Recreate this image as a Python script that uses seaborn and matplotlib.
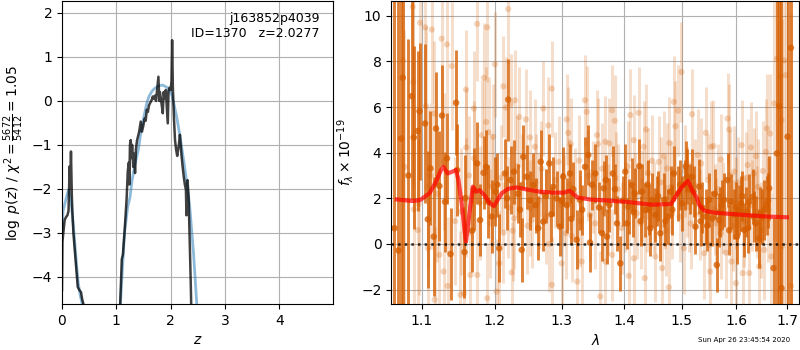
import numpy as np
import matplotlib
matplotlib.use("Agg")
import matplotlib.pyplot as plt
import matplotlib.ticker as mticker
import seaborn as sns

# p(z) panel
PZ_Z = [0.000, 0.008, 0.03, 0.05, 0.08, 0.10, 0.12, 0.14, 0.15, 0.165, 0.18, 0.19, 0.21,
        0.25, 0.29, 0.32, 0.35, 0.37, 0.40, 0.44,
        1.04, 1.07, 1.10, 1.12, 1.15, 1.17, 1.19, 1.21, 1.23, 1.24, 1.25, 1.265, 1.28, 1.29,
        1.31, 1.33, 1.344, 1.36, 1.38, 1.40, 1.42, 1.449, 1.47, 1.49, 1.52, 1.54, 1.56, 1.58,
        1.60, 1.62, 1.65, 1.67, 1.69, 1.71, 1.73, 1.774, 1.79, 1.80, 1.82, 1.854, 1.87, 1.89,
        1.91, 1.946, 1.96, 1.98, 2.00, 2.015, 2.026, 2.04, 2.06, 2.08, 2.10, 2.12, 2.15,
        2.17, 2.20, 2.22, 2.24, 2.26, 2.28, 2.29, 2.31, 2.33, 2.35, 2.37, 2.40]
PZ_LOGP = [-4.3, -3.2, -2.93, -2.7, -2.63, -2.6, -2.5, -1.49, -2.0, -1.15, -2.1, -2.5, -3.0,
           -3.62, -4.23, -4.3, -4.35, -4.5, -4.65, -6.0,
           -6.0, -4.65, -3.6, -3.5, -3.0, -2.6, -2.2, -1.6, -1.4, -1.9, -1.0, -0.89, -1.3, -1.0,
           -1.5, -1.2, -1.64, -1.1, -0.9, -0.8, -0.7, -0.47, -0.7, -0.6, -0.4, -0.45, -0.2, -0.25,
           -0.1, -0.05, 0.02, 0.1, 0.05, 0.12, 0.0, 0.55, 0.0, 0.2, 0.05, -0.28, 0.2, 0.05,
           0.25, -0.51, 0.23, 0.3, 0.25, 0.45, 1.38, 0.3, -0.4, -0.9, -1.11, -1.25, -1.0,
           -0.77, -1.25, -1.5, -1.72, -1.9, -2.02, -2.6, -1.8, -2.2, -3.2, -4.2, -6.0]

PRIOR_Z = [0.00, 0.02, 0.05, 0.08, 0.12, 0.15, 0.18, 0.21, 0.24, 0.27, 0.30, 0.34, 0.38, 0.42,
           1.04, 1.07, 1.10, 1.15, 1.21, 1.25, 1.29, 1.35, 1.405, 1.467, 1.50, 1.56, 1.60, 1.65,
           1.70, 1.774, 1.85, 1.90, 1.958, 2.02, 2.05, 2.11, 2.15, 2.20, 2.25, 2.28, 2.345,
           2.42, 2.48, 2.52]
PRIOR_LOGP = [-3.0, -2.5, -2.35, -2.2, -2.02, -2.15, -2.45, -2.85, -3.3, -3.75, -4.15, -4.45,
              -4.65, -5.5,
              -5.5, -4.7, -4.07, -3.0, -2.4, -2.2, -1.8, -1.4, -1.11, -0.58, -0.4, -0.05, 0.1,
              0.21, 0.28, 0.34, 0.36, 0.33, 0.29, 0.14, -0.02, -0.36, -0.65, -1.04, -1.45,
              -1.72, -2.33, -3.46, -4.62, -5.5]

# spectrum panel: binned (dark) points
DARK_WAVE = [1.0651, 1.0702, 1.0736, 1.0757, 1.0830, 1.0873, 1.0899, 1.0951, 1.0974, 1.1047,
             1.1083, 1.1118, 1.1162, 1.1192, 1.1237, 1.1272, 1.1312, 1.1339, 1.1387, 1.1463,
             1.1477, 1.1578, 1.1587, 1.1684, 1.1708, 1.1754, 1.1796, 1.1844, 1.1881, 1.1905,
             1.1960, 1.2010, 1.2067, 1.2149, 1.2197, 1.2232, 1.2281, 1.2340, 1.2394, 1.2418,
             1.2467, 1.2520, 1.2566, 1.2641, 1.2678, 1.2717, 1.2760, 1.2808, 1.2869, 1.2920,
             1.2973, 1.3024, 1.3080, 1.3128, 1.3180, 1.3233, 1.3286, 1.3365, 1.3418, 1.3445,
             1.3530, 1.3590, 1.3639, 1.3667, 1.3721, 1.3759, 1.3814, 1.3885, 1.3940, 1.3980,
             1.4023, 1.4080, 1.4136, 1.4181, 1.4259, 1.4305, 1.4361, 1.4400, 1.4447, 1.4477,
             1.4534, 1.4580, 1.4621, 1.4681, 1.4756, 1.4800, 1.4857, 1.4933, 1.5004, 1.5050,
             1.5094, 1.5140, 1.5184, 1.5245, 1.5312, 1.5370, 1.5434, 1.5495, 1.5556, 1.5637,
             1.5681, 1.5730, 1.5775, 1.5838, 1.5902, 1.5960, 1.6017, 1.6060, 1.6094, 1.6158,
             1.6200, 1.6252, 1.6317, 1.6383, 1.6447, 1.6500, 1.6545, 1.6600, 1.6644, 1.6730,
             1.6797, 1.6844, 1.6890, 1.7012, 1.7081,
             1.2040, 1.2180, 1.2370, 1.2600, 1.2840, 1.3000, 1.3150, 1.3320, 1.3480, 1.3700,
             1.3850, 1.4050, 1.4160, 1.4280, 1.4420, 1.4560, 1.4710, 1.4830, 1.4970, 1.5070,
             1.5210, 1.5340, 1.5460, 1.5600, 1.5700, 1.5870, 1.6000, 1.6120, 1.6230, 1.6340,
             1.6470, 1.6620]
DARK_FLUX = [0.69, -0.29, 4.62, 7.29, 3.0, 6.48, 4.67, 4.95, 5.82, 5.28,
             1.08, 3.31, 0.32, 5.06, 2.54, 5.63, 1.85, 3.75, -0.44, 6.19,
             3.24, -0.36, 2.00, 0.58, 2.39, 3.53, 1.05, 3.12, 3.38, 1.85,
             1.20, 2.30, -0.19, 3.09, 6.33, 2.80, 3.17, 2.20, -0.26, 3.82,
             2.95, 1.90, 2.58, 0.69, 3.60, 0.98, 2.10, 3.53, 2.51, 2.00,
             0.76, 2.95, 1.70, 3.09, 2.40, 0.18, 1.93, 3.38, 3.90, 0.06,
             3.09, 1.60, 0.47, 2.44, 0.32, 1.71, 3.09, 0.90, -0.85, 1.90,
             3.17, 1.63, 2.58, 2.22, 3.41, 2.29, 1.49, 2.60, 0.69, 1.93,
             1.27, 2.10, 0.47, 1.93, 1.20, 2.30, 3.09, 2.22, 1.78, 2.60,
             2.95, 2.40, 2.95, 0.76, 2.51, 1.60, 1.20, 1.93, 1.12, -0.92,
             1.05, 1.70, 1.93, 2.80, 1.85, 1.30, 0.32, 1.50, 1.78, 0.61,
             1.40, 1.85, 2.07, 0.90, 0.25, 1.20, 1.49, 1.70, 2.44, -1.06,
             3.97, 6.04, -1.94, 4.70, 8.60,
             2.6, 2.0, 1.5, 1.7, 1.3, 1.9, 1.1, 1.5, 2.6, 2.8,
             2.4, 0.9, 1.4, 1.0, 1.5, 1.9, 1.0, 1.5, 2.6, 3.4,
             2.3, 1.0, 0.8, 2.2, 1.4, 0.6, 1.6, 2.1, 0.7, 1.2,
             1.3, 1.9]
DARK_ERR = [15, 15, 15, 15, 6.0, 4.5, 4.0, 3.5, 3.0, 3.5,
            3.0, 2.5, 2.6, 2.5, 2.4, 2.2, 2.2, 2.0, 2.0, 2.3,
            2.0, 2.0, 1.9, 1.8, 1.8, 1.8, 1.6, 1.6, 1.6, 1.6,
            1.6, 1.5, 1.5, 1.5, 1.8, 1.5, 1.4, 1.3, 1.4, 1.4,
            1.4, 1.3, 1.4, 1.4, 1.4, 1.3, 1.2, 1.3, 1.3, 1.2,
            1.3, 1.3, 1.2, 1.3, 1.2, 1.3, 1.3, 1.3, 1.3, 1.3,
            1.3, 1.1, 1.2, 1.2, 1.2, 1.2, 1.2, 1.2, 1.2, 1.1,
            1.2, 1.2, 1.2, 1.1, 1.2, 1.2, 1.2, 1.1, 1.2, 1.2,
            1.2, 1.1, 1.2, 1.2, 1.2, 1.1, 1.2, 1.2, 1.2, 1.1,
            1.2, 1.1, 1.2, 1.2, 1.2, 1.1, 1.2, 1.2, 1.2, 1.2,
            1.2, 1.1, 1.2, 1.2, 1.2, 1.1, 1.2, 1.1, 1.2, 1.2,
            1.1, 1.2, 1.2, 1.2, 1.3, 1.2, 1.3, 1.3, 1.4, 2.2,
            15, 15, 15, 15, 15,
            1.4, 1.4, 1.2, 1.2, 1.2, 1.2, 1.1, 1.1, 1.1, 1.1,
            1.1, 1.1, 1.1, 1.1, 1.1, 1.1, 1.1, 1.1, 1.1, 1.1,
            1.1, 1.1, 1.1, 1.1, 1.1, 1.1, 1.1, 1.1, 1.1, 1.1,
            1.2, 1.2]

# spectrum panel: unbinned (light) points
LIGHT_WAVE = [1.0757, 1.0779, 1.0886, 1.0893, 1.0899, 1.0951, 1.0961, 1.0982, 1.1047, 1.1060,
              1.1083, 1.1085, 1.1136, 1.1171, 1.1173, 1.1237, 1.1267, 1.1293, 1.1339, 1.1346,
              1.1404, 1.1522, 1.1531, 1.1569, 1.1599, 1.1602, 1.1604, 1.1661, 1.1708, 1.1710,
              1.1754, 1.1756, 1.1820, 1.1849, 1.1881, 1.1895, 1.1897, 1.1914, 1.1957, 1.1980,
              1.2005, 1.2029, 1.2067, 1.2126, 1.2128, 1.2164, 1.2197, 1.2232, 1.2247, 1.2261,
              1.2281, 1.2295, 1.2358, 1.2400, 1.2456, 1.2517, 1.2519, 1.2542, 1.2591, 1.2650,
              1.2717, 1.2793, 1.2808, 1.2845, 1.2847, 1.2900, 1.2998, 1.3066, 1.3076, 1.3102,
              1.3139, 1.3154, 1.3200, 1.3243, 1.3275, 1.3313, 1.3365, 1.3392, 1.3445, 1.3500,
              1.3557, 1.3573, 1.3611, 1.3693, 1.3695, 1.3759, 1.3803, 1.3805, 1.3847, 1.3900,
              1.4023, 1.4080, 1.4107, 1.4164, 1.4166, 1.4220, 1.4248, 1.4300, 1.4333, 1.4350,
              1.4373, 1.4390, 1.4477, 1.4534, 1.4594, 1.4651, 1.4681, 1.4700, 1.4739, 1.4768,
              1.4779, 1.4827, 1.4857, 1.4886, 1.4933, 1.4993, 1.5036, 1.5100, 1.5126, 1.5184,
              1.5288, 1.5349, 1.5404, 1.5434, 1.5495, 1.5514, 1.5526, 1.5575, 1.5600, 1.5713,
              1.5715, 1.5808, 1.5838, 1.5870, 1.5913, 1.5966, 1.5998, 1.6000, 1.6105, 1.6125,
              1.6222, 1.6254, 1.6287, 1.6350, 1.6383, 1.6400, 1.6447, 1.6545, 1.6578, 1.6598,
              1.6664, 1.6690, 1.6744, 1.6797, 1.6864, 1.6890, 1.6892, 1.6944, 1.6978, 1.7081,
              1.1120, 1.1210, 1.1300, 1.1450, 1.1640, 1.1790, 1.1940, 1.2090, 1.2200, 1.2330,
              1.2480, 1.2600, 1.2690, 1.2760, 1.2950, 1.3030, 1.3120, 1.3290, 1.3420, 1.3530,
              1.3640, 1.3730, 1.3860, 1.3960, 1.4060, 1.4190, 1.4280, 1.4410, 1.4510, 1.4630,
              1.4720, 1.4810, 1.4960, 1.5060, 1.5160, 1.5230, 1.5320, 1.5470, 1.5620, 1.5660,
              1.5760, 1.5890, 1.5940, 1.6040, 1.6160, 1.6190, 1.6310, 1.6420, 1.6490, 1.6520,
              1.6630]
LIGHT_FLUX = [8.05, 3.38, 10.4, 7.10, 1.52, 0.61, 1.75, 9.70, 9.50, 6.04,
              2.48, -0.19, 9.40, 5.72, -2.45, -0.48, 9.00, -1.21, 8.75, -1.84,
              7.80, -2.23, 1.42, -2.16, 6.77, 4.23, 2.04, -1.36, 5.94, 3.75,
              9.65, -1.36, 4.77, 7.29, 5.35, 9.50, -2.38, 4.90, 2.51, 4.70,
              7.88, -2.09, -0.85, 6.91, 0.50, 5.98, 10.30, 6.13, -1.25, 0.58,
              1.12, 6.30, 5.57, 2.60, 5.46, 4.67, 1.56, 1.05, 4.26, 1.90,
              5.94, 5.20, 0.00, 6.81, -1.79, 2.80, -0.85, 0.47, 5.46, 4.87,
              4.38, 0.35, 2.20, -1.65, 3.65, -0.77, 6.30, 5.79, 1.27, 2.50,
              4.77, 4.38, -2.30, 4.48, -0.77, 4.41, 5.86, -0.48, 5.40, 2.40,
              1.63, -1.40, 5.65, 4.55, -0.63, 1.34, 5.75, 2.10, 4.26, -1.50,
              5.02, 1.63, 3.65, -0.55, 3.60, -1.06, 3.85, 1.80, 3.31, -1.90,
              4.43, 1.34, 6.23, 5.16, 5.84, 7.54, -0.19, 2.30, 1.63, 5.69,
              3.90, 3.53, -0.41, 4.87, -0.04, -1.21, 4.26, 4.29, 1.50, 3.70,
              0.47, -0.38, 5.50, 5.02, -0.77, 3.17, -1.72, 1.80, 4.33, -1.28,
              3.46, -1.28, 4.23, 3.09, 3.85, 1.40, -0.99, -0.26, 4.04, 5.06,
              4.84, -0.55, 6.16, 8.13, 7.35, 5.43, -0.12, 8.05, 7.40, -1.84,
              3.0, 2.2, 3.6, 1.0, 3.0, 1.8, 0.9, 2.9, 1.6, 3.4,
              0.8, 2.7, 3.3, 1.2, 3.6, 1.9, 2.6, 1.0, 3.0, 0.9,
              3.3, 1.5, 2.9, 0.7, 3.4, 2.0, 0.9, 3.1, 1.6, 2.7,
              0.6, 2.5, 1.2, 3.2, 0.9, 2.6, 1.3, 2.8, 0.9, 2.4,
              1.6, 3.0, 0.8, 2.7, 1.0, 2.9, 1.7, 2.5, 0.6, 3.2,
              1.5]
LIGHT_ERR = [6.0, 6.0, 4.5, 4.5, 4.5, 4.0, 4.0, 4.0, 3.5, 3.5,
             3.5, 3.5, 3.2, 3.2, 3.2, 3.0, 3.0, 3.0, 3.0, 3.0,
             2.8, 2.8, 2.8, 2.8, 2.6, 2.6, 2.6, 2.6, 2.5, 2.5,
             2.5, 2.5, 2.4, 2.4, 2.4, 2.4, 2.4, 2.4, 2.3, 2.3,
             2.3, 2.3, 2.3, 2.2, 2.2, 2.2, 2.4, 2.2, 2.2, 2.2,
             2.2, 2.2, 2.2, 2.2, 2.2, 2.1, 2.1, 2.1, 2.1, 2.1,
             2.1, 2.1, 2.1, 2.1, 2.1, 2.1, 2.0, 2.0, 2.0, 2.0,
             2.0, 2.0, 2.0, 2.0, 2.0, 2.0, 2.0, 2.0, 2.0, 2.0,
             2.0, 2.0, 2.0, 2.0, 2.0, 2.0, 2.0, 2.0, 2.0, 2.0,
             2.0, 2.0, 2.0, 2.0, 2.0, 2.0, 2.0, 2.0, 2.0, 2.0,
             2.0, 2.0, 2.0, 2.0, 2.0, 2.0, 2.0, 2.0, 2.0, 2.0,
             2.0, 2.0, 2.0, 2.0, 2.0, 2.2, 2.0, 2.0, 2.0, 2.0,
             2.0, 2.0, 2.0, 2.0, 2.0, 2.0, 2.0, 2.0, 2.0, 2.0,
             2.0, 2.0, 2.0, 2.0, 2.0, 2.0, 2.0, 2.0, 2.0, 2.0,
             2.0, 2.0, 2.0, 2.0, 2.0, 2.0, 2.1, 2.2, 2.3, 2.4,
             2.6, 2.8, 6.0, 8.0, 10.0, 10.0, 10.0, 12.0, 12.0, 12.0,
             3.2, 3.0, 3.0, 2.8, 2.6, 2.5, 2.4, 2.3, 2.2, 2.2,
             2.1, 2.1, 2.1, 2.1, 2.0, 2.0, 2.0, 2.0, 2.0, 2.0,
             2.0, 2.0, 2.0, 2.0, 2.0, 2.0, 2.0, 2.0, 2.0, 2.0,
             2.0, 2.0, 2.0, 2.0, 2.0, 2.0, 2.0, 2.0, 2.0, 2.0,
             2.0, 2.0, 2.0, 2.0, 2.0, 2.0, 2.0, 2.1, 2.1, 2.2,
             2.3]

# best-fit model
MODEL_WAVE = [1.0682, 1.0886, 1.0985, 1.1105, 1.1192, 1.1258, 1.1293, 1.1346, 1.1412, 1.1463,
              1.1494, 1.1540, 1.1578, 1.1599, 1.1646, 1.1694, 1.1740, 1.1787, 1.1857, 1.1933,
              1.1991, 1.2029, 1.2102, 1.2197, 1.2319, 1.2467, 1.2667, 1.2869, 1.3040, 1.3118,
              1.3170, 1.3243, 1.3445, 1.4023, 1.4477, 1.4807, 1.4886, 1.5004, 1.5112, 1.5184,
              1.5273, 1.5312, 1.5404, 1.5588, 1.6158, 1.6611, 1.7000]
MODEL_FLUX = [1.95, 1.88, 1.93, 2.22, 2.73, 3.24, 3.38, 3.09, 3.17, 3.24,
              2.80, 1.78, 0.61, 0.10, 1.34, 2.51, 2.29, 2.36, 2.14, 1.78,
              1.66, 1.85, 2.22, 2.42, 2.48, 2.39, 2.29, 2.25, 2.25, 2.33,
              2.22, 2.04, 1.95, 1.85, 1.72, 1.75, 2.07, 2.51, 2.77, 2.36,
              2.00, 1.71, 1.46, 1.37, 1.27, 1.20, 1.17]

ROOT = "j163852p4039"
OBJ_ID = 1370
Z_BEST = 2.0277
CHI2 = 5672
DOF = 5412
STAMP = "Sun Apr 26 23:45:54 2020"

G141_COLOR = (0.835, 0.369, 0.0)

fig = plt.figure(figsize=(8, 3.5), dpi=100)
ax_pz = fig.add_axes([0.0775, 0.131, 0.339, 0.866])
ax_sp = fig.add_axes([0.489, 0.131, 0.510, 0.866])

# p(z)
sns.lineplot(x=PRIOR_Z, y=PRIOR_LOGP, ax=ax_pz, color="tab:blue", alpha=0.5, lw=2,
             sort=False, estimator=None)
sns.lineplot(x=PZ_Z, y=PZ_LOGP, ax=ax_pz, color="k", alpha=0.75, lw=1.8,
             sort=False, estimator=None)
ax_pz.set_xlim(0, 4.99)
ax_pz.set_ylim(-4.62, 2.27)
ax_pz.set_xticks([0, 1, 2, 3, 4])
ax_pz.set_yticks([-4, -3, -2, -1, 0, 1, 2])
ax_pz.grid()
ax_pz.set_xlabel(r"$z$")
ax_pz.set_ylabel(r"$\log\ p(z)$" + " / " +
                 r"$\chi^2=\frac{%d}{%d}=%.2f$" % (CHI2, DOF, CHI2 / DOF))
ax_pz.text(0.95, 0.965, "{0}\nID={1:<5d}  z={2:.4f}".format(ROOT, OBJ_ID, Z_BEST),
           ha="right", va="top", transform=ax_pz.transAxes, fontsize=9)

# spectrum
ax_sp.errorbar(LIGHT_WAVE, LIGHT_FLUX, yerr=LIGHT_ERR, fmt="none",
               ecolor=G141_COLOR, alpha=0.2, elinewidth=2.2, zorder=1.8)
sns.scatterplot(x=LIGHT_WAVE, y=LIGHT_FLUX, ax=ax_sp, color=G141_COLOR, alpha=0.25,
                s=20, edgecolor="none", zorder=1.9)
ax_sp.errorbar(DARK_WAVE, DARK_FLUX, yerr=DARK_ERR, fmt="none",
               ecolor=G141_COLOR, alpha=0.78, elinewidth=2.1, zorder=2.1)
sns.scatterplot(x=DARK_WAVE, y=DARK_FLUX, ax=ax_sp, color=G141_COLOR, alpha=0.78,
                s=22, edgecolor="none", zorder=2.2)
sns.lineplot(x=MODEL_WAVE, y=MODEL_FLUX, ax=ax_sp, color="r", alpha=0.7, lw=3,
             sort=False, estimator=None, zorder=3)
ax_sp.axhline(0, color="k", ls=":", lw=1.8, alpha=0.8, zorder=4)

ax_sp.set_xscale("log")
ax_sp.set_xlim(1.061, 1.725)
ax_sp.set_ylim(-2.64, 10.65)
ax_sp.xaxis.set_major_locator(mticker.FixedLocator([1.1, 1.2, 1.3, 1.4, 1.5, 1.6, 1.7]))
ax_sp.xaxis.set_major_formatter(mticker.FormatStrFormatter("%.1f"))
ax_sp.xaxis.set_minor_locator(mticker.NullLocator())
ax_sp.set_yticks([-2, 0, 2, 4, 6, 8, 10])
ax_sp.grid()
ax_sp.set_xlabel(r"$\lambda$")
ax_sp.set_ylabel(r"$f_\lambda\times10^{-19}$")

fig.text(0.9875, 0.02, STAMP, ha="right", va="bottom", fontsize=5)

fig.savefig("out.png", dpi=100)
